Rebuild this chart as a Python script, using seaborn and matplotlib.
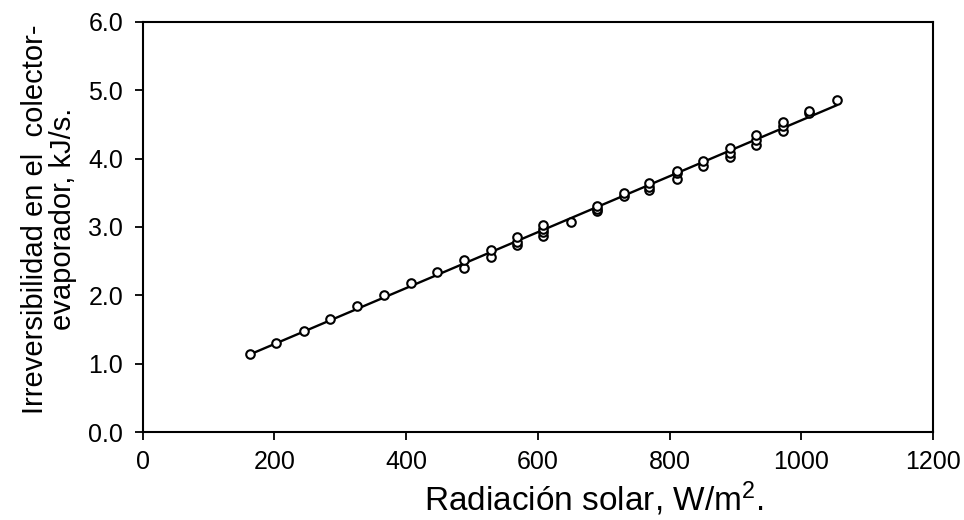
import matplotlib
matplotlib.use("Agg")
import matplotlib.pyplot as plt
import seaborn as sns
import pandas as pd

# Data
radiacion = [163, 203, 245, 284, 326, 366, 407, 447,
             488, 488, 529, 529,
             568, 568, 568,
             608, 608, 608, 608,
             650,
             689, 689, 689,
             730, 730,
             769, 769, 769,
             811, 811, 811,
             850, 850,
             891, 891, 891,
             931, 931, 931,
             972, 972, 972,
             1012, 1012,
             1054]
irreversibilidad = [1.14, 1.31, 1.48, 1.65, 1.84, 2.01, 2.18, 2.34,
                    2.40, 2.51, 2.56, 2.67,
                    2.73, 2.78, 2.85,
                    2.87, 2.92, 2.97, 3.03,
                    3.08,
                    3.23, 3.27, 3.31,
                    3.46, 3.49,
                    3.54, 3.58, 3.65,
                    3.70, 3.79, 3.82,
                    3.89, 3.96,
                    4.02, 4.08, 4.15,
                    4.20, 4.27, 4.35,
                    4.41, 4.47, 4.53,
                    4.66, 4.70,
                    4.85]
x_ticks = [0, 200, 400, 600, 800, 1000, 1200]
y_ticks = [0.0, 1.0, 2.0, 3.0, 4.0, 5.0, 6.0]
x_label = "Radiación solar, W/m$^{2}$."
y_label = "Irreversibilidad en el  colector-\nevaporador, kJ/s."

df = pd.DataFrame({"x": radiacion, "y": irreversibilidad})

sns.set_theme(style="ticks")
plt.rcParams["font.family"] = ["Liberation Sans", "DejaVu Sans"]
plt.rcParams["mathtext.fontset"] = "custom"
plt.rcParams["mathtext.rm"] = "Liberation Sans"
plt.rcParams["mathtext.default"] = "regular"

fig = plt.figure(figsize=(9.64, 5.20), dpi=100)
ax = fig.add_axes([0.148, 0.169, 0.820, 0.789])

sns.regplot(data=df, x="x", y="y", ax=ax, ci=None, truncate=True,
            scatter_kws=dict(s=38, facecolors="white", edgecolors="black",
                             linewidths=1.5, alpha=1, zorder=3),
            line_kws=dict(color="black", lw=1.7, zorder=2))

ax.set_xlim(0, 1200)
ax.set_ylim(0, 6)
ax.set_xticks(x_ticks)
ax.set_yticks(y_ticks)
ax.set_yticklabels([f"{v:.1f}" for v in y_ticks])
ax.tick_params(direction="out", length=6, width=1.3, colors="black",
               labelsize=18)
ax.tick_params(axis="x", pad=7)
ax.tick_params(axis="y", pad=8)
for s in ax.spines.values():
    s.set_visible(True)
    s.set_color("black")
    s.set_linewidth(1.5)

ax.set_xlabel(x_label, fontsize=24, color="black")
ax.xaxis.label.set_va("center")
ax.xaxis.set_label_coords(0.571, -0.163)

ax.set_ylabel(y_label, fontsize=21, color="black",
              multialignment="center", linespacing=1.0)
ax.yaxis.label.set_va("center")
ax.yaxis.set_label_coords(-0.118, 0.52)

fig.savefig("out.png", dpi=100, facecolor="white")
